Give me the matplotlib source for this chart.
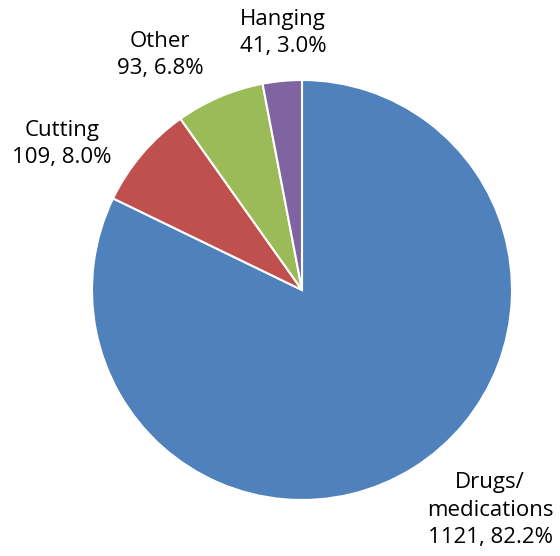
import matplotlib
matplotlib.use("Agg")
import matplotlib.pyplot as plt

categories = ["Drugs/\nmedications", "Cutting", "Other", "Hanging"]
counts = [1121, 109, 93, 41]
percents = [82.2, 8.0, 6.8, 3.0]
colors = ["#4F81BD", "#C0504D", "#9BBB59", "#8064A2"]

plt.rcParams['font.family'] = ['Open Sans', 'DejaVu Sans']

W, H = 560, 556
fig = plt.figure(figsize=(W / 100, H / 100), dpi=100)
cx, cy, r = 302, 290, 210
ax = fig.add_axes([(cx - r) / W, (H - cy - r) / H, 2 * r / W, 2 * r / H])
ax.pie(counts, colors=colors, startangle=90, counterclock=False,
       wedgeprops=dict(edgecolor="white", linewidth=1.5), radius=1)
ax.set_xlim(-1, 1)
ax.set_ylim(-1, 1)
ax.set_aspect("equal")
ax.axis("off")

label_pos = [(490, 510), (62, 144), (160, 55), (283, 33)]
for cat, n, p, (lx, ly) in zip(categories, counts, percents, label_pos):
    fig.text(lx / W, 1 - ly / H, f"{cat}\n{n}, {p:.1f}%", ha="center", va="center",
             fontsize=16, color="#000000", linespacing=1.4)

fig.savefig("out.png", dpi=100)
